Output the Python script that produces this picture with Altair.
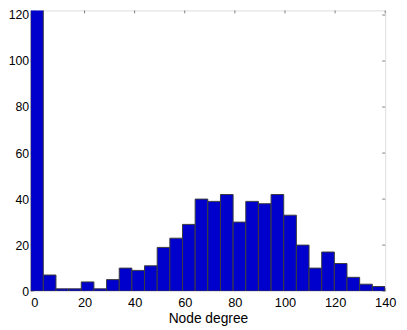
import altair as alt
import pandas as pd

# histogram counts (first bin clipped at the top of the axes)
counts = [300, 7, 1, 1, 4, 1, 5, 10, 9, 11, 19, 23, 29, 40, 39, 42, 30, 39,
          38, 42, 33, 20, 10, 17, 12, 6, 3, 2]
bin_start = -1.5
bin_width = 5.05
x_ticks = [0, 20, 40, 60, 80, 100, 120, 140]
y_ticks = [0, 20, 40, 60, 80, 100, 120]
x_domain = [-1.5, 140]
y_domain = [0, 122]

lo = [bin_start + i * bin_width for i in range(len(counts))]
hi = [v + bin_width for v in lo]
bars_df = pd.DataFrame({"lo": lo, "hi": hi, "count": counts})
xt_df = pd.DataFrame({"xv": x_ticks})
yt_df = pd.DataFrame({"yv": y_ticks})

W, H = 360, 285
FONT = "Liberation Sans"
GRAY = "#808080"

xscale = alt.Scale(domain=x_domain, nice=False, zero=False)
yscale = alt.Scale(domain=y_domain, nice=False)

bars = alt.Chart(bars_df).mark_bar(
    color="#0000cc", stroke="#3c3c3c", strokeWidth=1, clip=True
).encode(
    x=alt.X("lo:Q", scale=xscale,
            axis=alt.Axis(values=x_ticks, title="Node degree", grid=False,
                          ticks=False, domain=False, tickSize=0,
                          labelPadding=6, labelFontSize=13, titleFontSize=14,
                          titleFontWeight="normal", titlePadding=2,
                          labelFlush=False, labelOverlap=False,
                          labelFont=FONT, titleFont=FONT, labelColor="black",
                          titleColor="black", format="d")),
    x2="hi:Q",
    y=alt.Y("count:Q", scale=yscale,
            axis=alt.Axis(values=y_ticks, title=None, grid=False,
                          ticks=False, domain=False, tickSize=0,
                          labelPadding=2, labelFontSize=12.5, labelFont=FONT,
                          labelFlush=False, labelOverlap=False,
                          labelColor="black", format="d")),
    y2=alt.datum(0),
)

top_ticks = alt.Chart(xt_df).mark_rule(color=GRAY).encode(
    x=alt.X("xv:Q", scale=xscale), y=alt.value(0), y2=alt.value(3))
bot_ticks = alt.Chart(xt_df).mark_rule(color=GRAY).encode(
    x=alt.X("xv:Q", scale=xscale), y=alt.value(H), y2=alt.value(H - 3))
right_ticks = alt.Chart(yt_df).mark_rule(color=GRAY).encode(
    y=alt.Y("yv:Q", scale=yscale), x=alt.value(W), x2=alt.value(W - 3))
left_ticks = alt.Chart(yt_df).mark_rule(color=GRAY).encode(
    y=alt.Y("yv:Q", scale=yscale), x=alt.value(0), x2=alt.value(3))

chart = alt.layer(top_ticks, bot_ticks, right_ticks, left_ticks, bars).properties(
    width=W, height=H,
    autosize=alt.AutoSizeParams(type="none"),
    padding={"left": 23, "top": 0, "right": 14, "bottom": 36},
).configure_view(stroke=GRAY, strokeWidth=1).configure(background="white")

chart.save("out.html", embed_options={"renderer": "svg", "actions": False})
